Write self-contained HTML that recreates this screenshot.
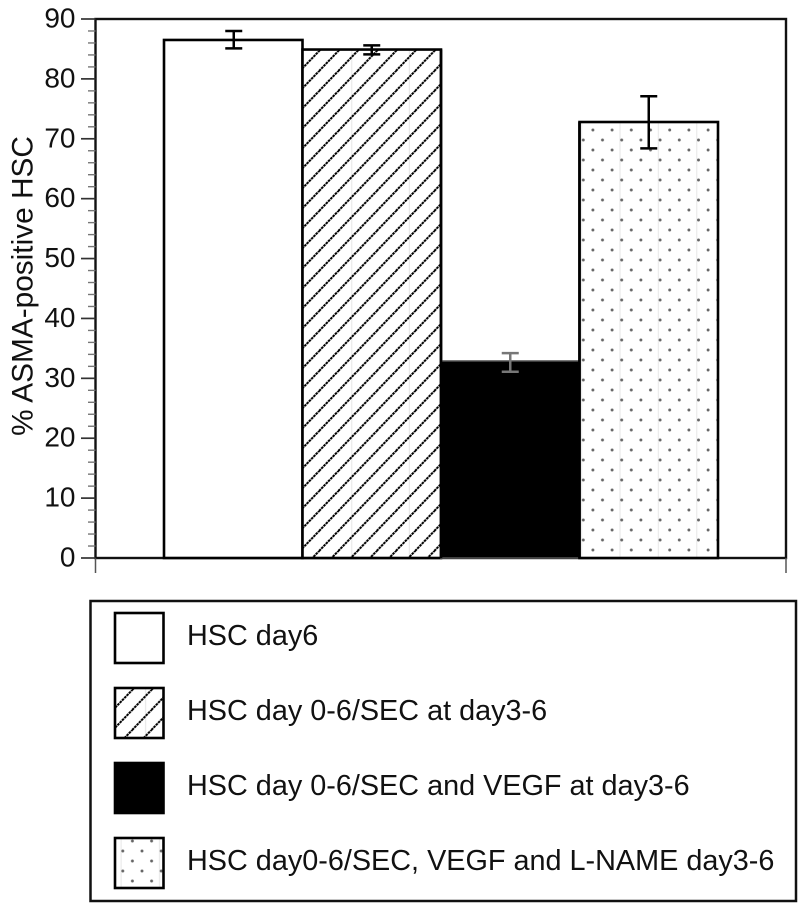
<!DOCTYPE html>
<html lang="en">
<head>
<meta charset="utf-8">
<title>ASMA-positive HSC bar chart</title>
<style>
html,body{margin:0;padding:0;background:#fff;}
svg{display:block;filter:blur(0.35px);}
text{font-family:"Liberation Sans",Arial,sans-serif;fill:#111;}
</style>
</head>
<body>
<svg id="chart" xmlns="http://www.w3.org/2000/svg" width="800" height="907" viewBox="0 0 800 907"></svg>
<script>
const categories = ['HSC day6', 'HSC day 0-6/SEC at day3-6', 'HSC day 0-6/SEC and VEGF at day3-6', 'HSC day0-6/SEC, VEGF and L-NAME day3-6'];
const meanValues = [86.5, 84.9, 32.9, 72.8];
const errorHigh = [88.0, 85.6, 34.2, 77.1];
const errorLow = [85.1, 84.1, 31.1, 68.4];
const tickLabels = [0, 10, 20, 30, 40, 50, 60, 70, 80, 90];
const minorTicks = [2, 4, 6, 8, 12, 14, 16, 18, 22, 24, 26, 28, 32, 34, 36, 38, 42, 44, 46, 48, 52, 54, 56, 58, 62, 64, 66, 68, 72, 74, 76, 78, 82, 84, 86, 88];
const axisTitle = '% ASMA-positive HSC';

const NS = 'http://www.w3.org/2000/svg';
const svg = document.getElementById('chart');
function mk(parent, tag, attrs, text) {
  const e = document.createElementNS(NS, tag);
  for (const k in attrs) e.setAttribute(k, attrs[k]);
  if (text !== undefined) e.textContent = text;
  parent.appendChild(e);
  return e;
}

const plotL = 95.5, plotR = 786, plotB = 558, plotT = 19, yMax = 90;
const barsL = 164, barW = 138.5;
const yScale = v => plotB - (v / yMax) * (plotB - plotT);
const xBar = i => barsL + i * barW;

const defs = mk(svg, 'defs', {});
function hatchPattern(id, ox, oy) {
  const p = mk(defs, 'pattern', {id: id, patternUnits: 'userSpaceOnUse', width: 57.6, height: 20, patternTransform: 'translate(' + ox + ',' + oy + ')'});
  mk(p, 'rect', {x: 0, y: 0, width: 57.6, height: 20, fill: '#fff'});
  mk(p, 'line', {x1: 32.6, y1: 0, x2: 32.6, y2: 20, stroke: '#e4e4e4', 'stroke-width': 1});
  for (let k = -1; k < 4; k++) {
    mk(p, 'line', {x1: k * 19.2 - 2.4, y1: 22.5, x2: (k + 1) * 19.2 + 2.4, y2: -2.5, stroke: '#000', 'stroke-width': 2, 'stroke-dasharray': '2.6 0.7'});
  }
}
function dotPattern(id, ox, oy) {
  const p = mk(defs, 'pattern', {id: id, patternUnits: 'userSpaceOnUse', width: 38.4, height: 20, patternTransform: 'translate(' + ox + ',' + oy + ')'});
  mk(p, 'rect', {x: 0, y: 0, width: 38.4, height: 20, fill: '#fff'});
  mk(p, 'line', {x1: 36.7, y1: 0, x2: 36.7, y2: 20, stroke: '#e6e6e6', 'stroke-width': 1});
  [[0, 0], [19.2, 0], [9.6, 10], [28.8, 10]].forEach(d => {
    mk(p, 'circle', {cx: d[0], cy: d[1], r: 1.45, fill: '#666'});
    if (d[1] === 0) {
      mk(p, 'circle', {cx: d[0], cy: 20, r: 1.45, fill: '#666'});
      if (d[0] === 0) {
        mk(p, 'circle', {cx: 38.4, cy: 0, r: 1.45, fill: '#666'});
        mk(p, 'circle', {cx: 38.4, cy: 20, r: 1.45, fill: '#666'});
      }
    }
  });
}
hatchPattern('hatch-bar', 319.1, 51);
hatchPattern('hatch-legend', 113, 690);
dotPattern('dots-bar', 583.3, 140);
dotPattern('dots-legend', 122.8, 851);

const barFills = ['#fff', 'url(#hatch-bar)', '#000', 'url(#dots-bar)'];
const legendFills = ['#fff', 'url(#hatch-legend)', '#000', 'url(#dots-legend)'];

/* plot frame */
const frame = mk(svg, 'rect', {x: plotL, y: plotT, width: plotR - plotL, height: plotB - plotT, fill: '#fff', stroke: '#111', 'stroke-width': 2.4});



/* x-axis end ticks */
[plotL, plotR].forEach(x => {
  const t = mk(svg, 'line', {x1: x, y1: plotB, x2: x, y2: 573, stroke: '#555', 'stroke-width': 1.5});
  
  
});

/* y-axis ticks and labels */
minorTicks.forEach(v => {
  const t = mk(svg, 'line', {x1: 88, y1: yScale(v), x2: plotL, y2: yScale(v), stroke: '#777', 'stroke-width': 1.4});
  
  
});
tickLabels.forEach(v => {
  const t = mk(svg, 'line', {x1: 81, y1: yScale(v), x2: plotL, y2: yScale(v), stroke: '#333', 'stroke-width': 1.7});
  
  
  const l = mk(svg, 'text', {x: 75.5, y: yScale(v) + 8.5, 'text-anchor': 'end', 'font-size': 28}, String(v));
  
  
});

/* y-axis title */
const title = mk(svg, 'text', {x: 0, y: 0, transform: 'translate(32.5,286) rotate(-90)', 'text-anchor': 'middle', 'font-size': 29.8}, axisTitle);



/* bars */
meanValues.forEach((v, i) => {
  const isDark = i === 2;
  const b = mk(svg, 'rect', {x: xBar(i), y: yScale(v), width: barW, height: plotB - yScale(v), fill: barFills[i], stroke: isDark ? '#555' : '#000', 'stroke-width': isDark ? 1.5 : 2.6});
  
  
});
/* redraw neighbouring edges so the black bar does not thin the shared borders */
[1, 3].forEach(i => {
  const e = mk(svg, 'line', {x1: xBar(i) + (i === 1 ? barW : 0), y1: yScale(meanValues[i]), x2: xBar(i) + (i === 1 ? barW : 0), y2: plotB, stroke: '#000', 'stroke-width': 2.6});
  
  
});

/* error bars */
meanValues.forEach((v, i) => {
  const cx = xBar(i) + barW / 2 + (i === 0 ? 0.5 : 0);
  const col = i === 2 ? '#777' : '#000';
  const hw = 8.5;
  const g = mk(svg, 'g', {stroke: col, 'stroke-width': 2.5, fill: 'none'});
  
  
  mk(g, 'line', {x1: cx, y1: yScale(errorHigh[i]), x2: cx, y2: yScale(errorLow[i])});
  mk(g, 'line', {x1: cx - hw, y1: yScale(errorHigh[i]), x2: cx + hw, y2: yScale(errorHigh[i])});
  mk(g, 'line', {x1: cx - hw, y1: yScale(errorLow[i]), x2: cx + hw, y2: yScale(errorLow[i])});
});

/* legend */
const legend = mk(svg, 'g', {});


mk(legend, 'rect', {x: 90.5, y: 601, width: 705.5, height: 300, fill: '#fff', stroke: '#111', 'stroke-width': 2.5});
const swatchTop = i => 613 + i * 75;
categories.forEach((c, i) => {
  const entry = mk(legend, 'g', {});
  
  
  mk(entry, 'rect', {x: 115, y: swatchTop(i), width: 48.5, height: 50, fill: legendFills[i], stroke: '#000', 'stroke-width': 2.6});
  mk(entry, 'text', {x: 187, y: swatchTop(i) + 32, 'font-size': 28.8}, c);
});
</script>
</body>
</html>
